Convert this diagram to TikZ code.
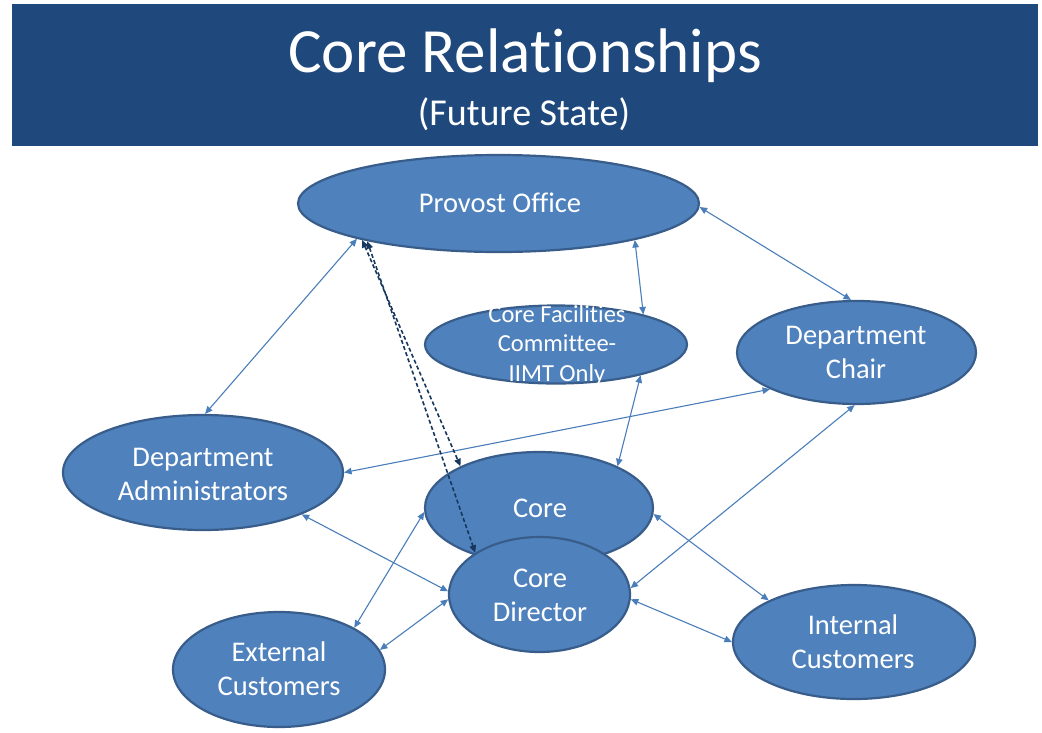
\documentclass[tikz,border=0pt]{standalone}
\usepackage{fontspec}
\setmainfont{Carlito}[Ligatures=CommonOff]
\usetikzlibrary{shapes.geometric,arrows.meta}

\definecolor{bannerblue}{RGB}{31,73,125}
\definecolor{ellfill}{RGB}{79,129,189}
\definecolor{elledge}{RGB}{56,93,138}
\definecolor{linkblue}{RGB}{74,126,187}
\definecolor{linknavy}{RGB}{23,55,94}

\begin{document}
\begin{tikzpicture}[x=1pt,y=-1pt,
  ell/.style={ellipse, draw=elledge, fill=ellfill, line width=2.2pt, inner sep=0pt},
  lbl/.style={text=white, align=center, inner sep=0pt, font=\fontsize{28.5}{34}\selectfont},
  conn/.style={draw=linkblue, line width=1.1pt,
    {Triangle[length=7.5pt,width=6.5pt]}-{Triangle[length=7.5pt,width=6.5pt]}},
  dconn/.style={draw=linknavy, line width=1.6pt, dash pattern=on 4pt off 2.5pt,
    {Triangle[length=7.5pt,width=6.5pt]}-{Triangle[length=7.5pt,width=6.5pt]}}]

\useasboundingbox (0,0) rectangle (1042,732);
\fill[white] (0,0) rectangle (1042,732);

% title banner
\node[fill=bannerblue, minimum width=1026pt, minimum height=142pt, inner sep=0pt]
  (banner) at (525,75) {};
\node[text=white, anchor=base, inner sep=0pt, font=\fontsize{63}{72}\selectfont]
  (title) at (525,72) {Core Relationships};
\node[text=white, anchor=base, inner sep=0pt, font=\fontsize{38}{44}\selectfont]
  (subtitle) at (524,125) {(Future State)};

% ellipses
\node[ell, minimum width=401pt, minimum height=97pt]  (po) at (498.5,203.5) {};
\node[ell, minimum width=262pt, minimum height=78pt]  (cf) at (556,344.5) {};
\node[ell, minimum width=239pt, minimum height=103pt] (dc) at (856.5,352.5) {};
\node[ell, minimum width=280pt, minimum height=115pt] (da) at (203,472.5) {};
\node[ell, minimum width=228pt, minimum height=112pt] (co) at (539,508) {};
\node[ell, minimum width=181pt, minimum height=115pt] (cd) at (539.5,594.5) {};
\node[ell, minimum width=212pt, minimum height=115pt] (ec) at (279,669.5) {};
\node[ell, minimum width=242pt, minimum height=114pt] (ic) at (854,642) {};

% labels
\node[lbl] (po-t) at (500,203) {Provost Office};
\node[lbl, font=\fontsize{24.5}{29.5}\selectfont] (cf-t) at (557,345) {Core Facilities\\Committee-\\IIMT Only};
\node[lbl] (dc-t) at (856,352) {Department\\Chair};
\node[lbl] (da-t) at (203,474) {Department\\Administrators};
\node[lbl] (co-t) at (540,508) {Core};
\node[lbl] (cd-t) at (540,595) {Core\\Director};
\node[lbl] (ec-t) at (279,669) {External\\Customers};
\node[lbl] (ic-t) at (853,642) {Internal\\Customers};

% relationships
\draw[conn] (po.194) -- (da.88);
\draw[conn] (po.359) -- (dc.96);
\draw[conn] (po.345) -- (cf.19);
\draw[conn] (cf.340) -- (co.28);
\draw[conn] (dc.203) -- (da.0);
\draw[conn] (dc.268) -- (cd.4);
\draw[conn] (da.337) -- (cd.178);
\draw[conn] (co.182) -- (ec.29);
\draw[conn] (cd.183) -- (ec.11);
\draw[conn] (co.357) -- (ic.154);
\draw[conn] (cd.357) -- (ic.180);
\draw[dconn] (po.195.5) -- (co.152);
\draw[dconn] (po.196.5) -- (cd.147);
\end{tikzpicture}
\end{document}
